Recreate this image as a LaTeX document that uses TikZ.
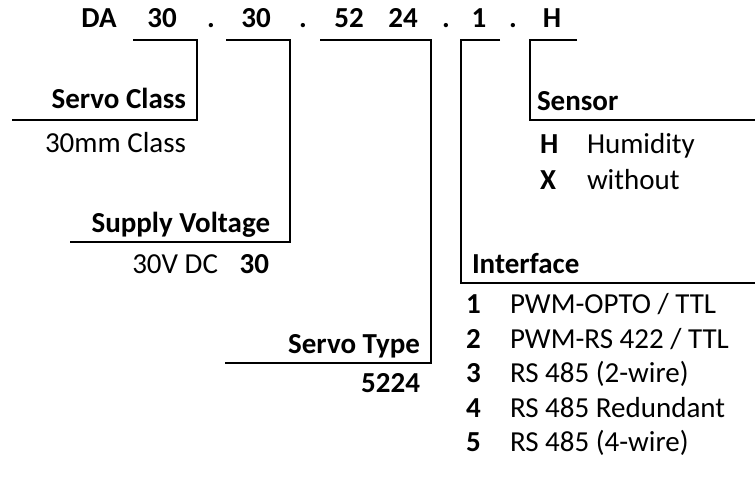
\documentclass[tikz,border=0pt]{standalone}
\usepackage{fontspec}
\setmainfont{Carlito}
\begin{document}
\begin{tikzpicture}[x=1pt,y=-1pt,
  every node/.style={inner sep=0pt, outer sep=0pt, font=\fontsize{29}{34}\selectfont},
  hd/.style={anchor=base, font=\fontsize{29}{34}\selectfont\bfseries},
  lbl/.style={anchor=base east, font=\fontsize{29}{34}\selectfont\bfseries},
  lblw/.style={anchor=base west, font=\fontsize{29}{34}\selectfont\bfseries},
  txt/.style={anchor=base west},
  txte/.style={anchor=base east},
  code/.style={anchor=base west, font=\fontsize{29}{34}\selectfont\bfseries},
  ln/.style={line width=2.6pt, line join=miter}]
\useasboundingbox (0,0) rectangle (755,483);
% header
\node[hd] (hDA) at (99,27) {DA};
\node[hd] (h1) at (162,27) {30};
\node[hd] (d1) at (211,27) {.};
\node[hd] (h2) at (256,27) {30};
\node[hd] (d2) at (303,27) {.};
\node[hd] (h3a) at (349,27) {52};
\node[hd] (h3b) at (403,27) {24};
\node[hd] (d3) at (446,27) {.};
\node[hd] (h4) at (479,27) {1};
\node[hd] (d4) at (513,27) {.};
\node[hd] (h5) at (552,27) {H};
% corner coordinates
\coordinate (a1) at (133,40); \coordinate (a2) at (197,40); \coordinate (a3) at (197,120); \coordinate (a4) at (12,120);
\coordinate (b1) at (226,40); \coordinate (b2) at (290,40); \coordinate (b3) at (290,242); \coordinate (b4) at (70,242);
\coordinate (c1) at (320,40); \coordinate (c2) at (431,40); \coordinate (c3) at (431,363); \coordinate (c4) at (225,363);
\coordinate (e1) at (500,40); \coordinate (e2) at (461,40); \coordinate (e3) at (461,283); \coordinate (e4) at (755,283);
\coordinate (f1) at (577,40); \coordinate (f2) at (530,40); \coordinate (f3) at (530,120); \coordinate (f4) at (755,120);
\draw[ln] (a1) -- (a2) -- (a3) -- (a4);
\draw[ln] (b1) -- (b2) -- (b3) -- (b4);
\draw[ln] (c1) -- (c2) -- (c3) -- (c4);
\draw[ln] (e1) -- (e2) -- (e3) -- (e4);
\draw[ln] (f1) -- (f2) -- (f3) -- (f4);
% servo class
\node[lbl] (sc) at (186,108) {Servo Class};
\node[txt] (scv) at (45,152) {30mm Class};
% supply voltage
\node[lbl] (sv) at (270,232) {Supply Voltage};
\node[txte] (svt) at (218,273) {30V DC};
\node[lbl] (svc) at (269,273) {30};
% servo type
\node[lbl] (st) at (420,353) {Servo Type};
\node[lbl] (stc) at (420,392) {5224};
% sensor
\node[lblw] (sn) at (537,110) {Sensor};
\node[code] (snH) at (540,153) {H};
\node[txt] (snHt) at (587,153) {Humidity};
\node[code] (snX) at (540,189) {X};
\node[txt] (snXt) at (587,189) {without};
% interface
\node[lblw] (if) at (472,273) {Interface};
\node[code] (i1) at (466,313) {1};
\node[txt] (i1t) at (510,313) {PWM-OPTO / TTL};
\node[code] (i2) at (466,348) {2};
\node[txt] (i2t) at (510,348) {PWM-RS 422 / TTL};
\node[code] (i3) at (466,382) {3};
\node[txt] (i3t) at (510,382) {RS 485 (2-wire)};
\node[code] (i4) at (466,417) {4};
\node[txt] (i4t) at (510,417) {RS 485 Redundant};
\node[code] (i5) at (466,451) {5};
\node[txt] (i5t) at (510,451) {RS 485 (4-wire)};
\end{tikzpicture}
\end{document}
